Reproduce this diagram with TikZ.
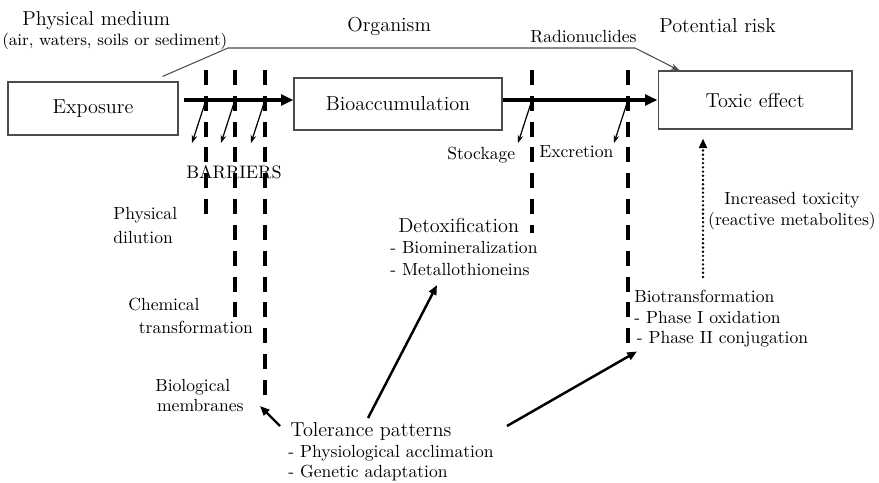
\documentclass[tikz,border=0pt]{standalone}
\usetikzlibrary{arrows.meta,calc}
\begin{document}
\begin{tikzpicture}[x=0.02cm,y=-0.02cm,
		box/.style={draw=black!70,line width=0.6pt,inner sep=0pt,font=\bigText},
		bigLabel/.style={inner sep=0pt,font=\bigText},
		smallLabel/.style={inner sep=0pt,font=\smallText,align=left},
		mainFlow/.style={line width=2pt,-{Triangle[length=7pt,width=6pt]}},
		barrier/.style={line width=2pt,dash pattern=on 8.5pt off 6.2pt},
		leak/.style={line width=0.7pt,-{Stealth[length=4.5pt,width=3.2pt]}},
		tolArrow/.style={line width=1.4pt,-{Triangle[length=5.5pt,width=4.5pt]}}]
		\newcommand{\bigText}{\fontsize{11.5}{14}\selectfont}
		\newcommand{\smallText}{\fontsize{10}{12}\selectfont}
		
		\useasboundingbox (0,0) rectangle (879,483);		% page
		
		% boxes
		\node[box,minimum width=3.4cm,minimum height=1.06cm] (expo) at (93,108.5) {Exposure};
		\node[box,minimum width=4.16cm,minimum height=1.04cm] (bioacc) at (398,104) {Bioaccumulation};
		\node[box,minimum width=3.88cm,minimum height=1.16cm] (toxic) at (755,100) {Toxic effect};
		\coordinate (axis) at (toxic.west);
		
		% top labels
		\node[bigLabel,anchor=base west] (medium) at (22,26) {Physical medium};
		\node[smallLabel,anchor=base west,font=\fontsize{9.4}{11}\selectfont] (air) at (2,46) {(air, waters, soils or sediment)};
		\node[bigLabel,anchor=base west] (organism) at (347,32) {Organism};
		\node[smallLabel,anchor=base west] (radio) at (530,43) {Radionuclides};
		\node[bigLabel,anchor=base west] (risk) at (659,33) {Potential risk};
		
		% barriers and leaks
		\foreach \x/\yEnd in {206/215,235/318,265/397,532/233,628/343}
			\draw[barrier] (\x,70) -- (\x,\yEnd);
		\foreach \x in {206,235,265,532,628}
			\draw[leak] (\x,100) -- +(-14,43);
		
		% main flow
		\draw[mainFlow] ($(expo.east |- axis)+(5,0)$) -- (bioacc.west |- axis);
		\draw[mainFlow] (bioacc.east |- axis) -- (axis);
		\draw[black!70,line width=0.6pt,-{Stealth[length=5pt,width=3.5pt]}] ($(expo.north east)+(-16,-5)$) -- (228,48) -- (635,48) -- ($(toxic.north west)+(22,0)$);
		
		% lower labels
		\node[smallLabel,anchor=base west,font=\fontsize{10.3}{12}\selectfont] (barriers) at (186,178) {BARRIERS};
		\node[smallLabel,anchor=north west,font=\fontsize{10}{13.5}\selectfont] (dilution) at (113,207) {Physical\\dilution};
		\node[smallLabel,anchor=north west,font=\fontsize{10}{13}\selectfont] (chem) at (128,298) {Chemical\\\hspace*{6pt}transformation};
		\node[smallLabel,anchor=north west,font=\fontsize{10}{11.3}\selectfont] (memb) at (155,379) {Biological\\\hspace*{1pt}membranes};
		\node[smallLabel,anchor=base west] (stock) at (447,159) {Stockage};
		\node[smallLabel,anchor=base west] (excr) at (539,157) {Excretion};
		\node[bigLabel,anchor=base west] (detox) at (398,232) {Detoxification};
		\node[smallLabel,anchor=north west,font=\fontsize{10}{12.5}\selectfont] (detoxList) at (390,241) {- Biomineralization\\- Metallothioneins};
		\node[smallLabel,anchor=north,align=center] (increased) at (792,192) {Increased toxicity\\(reactive metabolites)};
		\node[smallLabel,anchor=north west,font=\fontsize{10}{11.6}\selectfont] (biotrans) at (634,290) {Biotransformation\\- Phase I oxidation\\\hspace*{1.5pt}- Phase II conjugation};
		\node[bigLabel,anchor=base west] (tol) at (290,436) {Tolerance patterns};
		\node[smallLabel,anchor=north west,font=\fontsize{10}{11.3}\selectfont] (tolList) at (288,445) {- Physiological acclimation\\- Genetic adaptation};
		
		% toxicity and tolerance arrows
		\coordinate (incBase) at (703,277);
		\draw[line width=1.5pt,dash pattern=on 0pt off 2.4pt,line cap=round,-{Triangle[length=5.5pt,width=4.5pt]}] (incBase) -- ($(toxic.south -| incBase)+(0,9)$);
		\draw[tolArrow] ($(tol.base west)+(-10,-10)$) -- ($(tol.base west)+(-30,-30)$);
		\draw[tolArrow] ($(tol.base west)+(78,-18)$) -- ($(detoxList.south west)+(47,9)$);
		\draw[tolArrow] ($(tol.base west)+(217,-10)$) -- ($(biotrans.south west)+(3,4)$);
\end{tikzpicture}
\end{document}
